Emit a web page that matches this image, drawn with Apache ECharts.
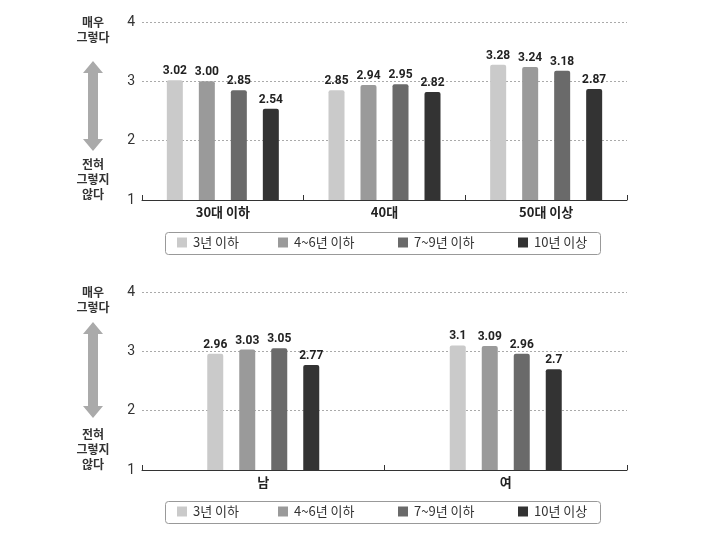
<!DOCTYPE html>
<html><head><meta charset="utf-8">
<script src="https://cdn.jsdelivr.net/npm/echarts@6/dist/echarts.min.js"></script>
<style>html,body{margin:0;padding:0;background:#fff}#c{width:701px;height:553px}</style>
</head><body><div id="c"></div>
<script>
const seriesNames = ['3년 이하', '4~6년 이하', '7~9년 이하', '10년 이상'];
const ageCategories = ['30대 이하', '40대', '50대 이상'];
const ageValues = [
  [3.02, 2.85, 3.28],
  [3.00, 2.94, 3.24],
  [2.85, 2.95, 3.18],
  [2.54, 2.82, 2.87]
];
const genderCategories = ['남', '여'];
const genderValues = [
  [2.96, 3.1],
  [3.03, 3.09],
  [3.05, 2.96],
  [2.77, 2.7]
];
const yTicks = { min: 1, max: 4, interval: 1 };
const colors = ['#cacaca', '#9a9a9a', '#6a6a6a', '#333333'];

const KR = '"Noto Sans CJK KR", "Noto Sans", sans-serif';
const NUM = 'Roboto, sans-serif';

const chart = echarts.init(document.getElementById('c'), null, { renderer: 'canvas' });

function xAxis(idx, cats) {
  return {
    type: 'category', gridIndex: idx, data: cats,
    axisLine: { lineStyle: { color: '#333', width: 1 } },
    axisTick: { show: true, inside: true, length: 5, lineStyle: { color: '#333' } },
    axisLabel: { color: '#222', fontFamily: KR, fontWeight: 'bold', fontSize: 13, margin: 6 }
  };
}
function yAxis(idx) {
  return {
    type: 'value', gridIndex: idx, min: yTicks.min, max: yTicks.max, interval: yTicks.interval,
    axisLine: { show: false }, axisTick: { show: false },
    axisLabel: { color: '#333', fontFamily: 'Roboto, sans-serif', fontSize: 14, margin: 7 },
    splitLine: { lineStyle: { color: '#aaa', type: [2, 2], width: 1 } }
  };
}
const series = [];
seriesNames.forEach((n, i) => {
  series.push({
    name: n, type: 'bar', xAxisIndex: 0, yAxisIndex: 0, data: ageValues[i],
    barWidth: 16, barGap: '100%',
    itemStyle: { color: colors[i], borderRadius: [2, 2, 0, 0] },
    label: { show: true, position: 'top', distance: 3, color: '#222', fontFamily: NUM, fontWeight: 'bold', fontSize: 12,
      formatter: p => p.value.toFixed(2) }
  });
});
seriesNames.forEach((n, i) => {
  series.push({
    name: n, type: 'bar', xAxisIndex: 1, yAxisIndex: 1, data: genderValues[i],
    barWidth: 16, barGap: '100%',
    itemStyle: { color: colors[i], borderRadius: [2, 2, 0, 0] },
    label: { show: true, position: 'top', distance: 3, color: '#222', fontFamily: NUM, fontWeight: 'bold', fontSize: 12,
      formatter: p => String(p.value) }
  });
});
const legendLefts = [177, 278, 398, 518];
const legends = [];
[236, 505].forEach(top => {
  seriesNames.forEach((n, i) => {
    legends.push({
      data: [n], left: legendLefts[i], top: top, padding: 0,
      itemWidth: 10, itemHeight: 10, itemGap: 0, icon: 'rect', selectedMode: false,
      textStyle: { color: '#333', fontFamily: KR, fontSize: 13, padding: [0, 0, 0, 1] }
    });
  });
});
function box(top) {
  return { type: 'rect', silent: true, shape: { x: 165.5, y: top + 0.5, width: 435, height: 22, r: 3 },
    style: { fill: 'none', stroke: '#999', lineWidth: 1 } };
}
function arrow(top, bottom) {
  const cx = 93, hw = 10, sw = 5, hh = 12;
  return {
    type: 'polygon', silent: true,
    shape: { points: [
      [cx, top], [cx + hw, top + hh], [cx + sw, top + hh], [cx + sw, bottom - hh], [cx + hw, bottom - hh],
      [cx, bottom], [cx - hw, bottom - hh], [cx - sw, bottom - hh], [cx - sw, top + hh], [cx - hw, top + hh]
    ] },
    style: { fill: '#aaaaaa' }
  };
}
function txt(y, s) {
  return { type: 'text', x: 93, y: y, silent: true,
    style: { text: s, fill: '#333', font: 'bold 12px ' + KR, align: 'center', verticalAlign: 'top', lineHeight: 15 } };
}
chart.setOption({
  backgroundColor: '#fff',
  animation: false,
  color: colors,
  grid: [
    { left: 142, width: 485, top: 22, height: 178 },
    { left: 142, width: 485, top: 292, height: 178 }
  ],
  xAxis: [xAxis(0, ageCategories), xAxis(1, genderCategories)],
  yAxis: [yAxis(0), yAxis(1)],
  legend: legends,
  series: series,
  graphic: [
    box(232), box(501),
    txt(15, '매우\n그렇다'), arrow(61, 151), txt(157, '전혀\n그렇지\n않다'),
    txt(285, '매우\n그렇다'), arrow(322, 418), txt(427, '전혀\n그렇지\n않다')
  ]
});
</script></body></html>
